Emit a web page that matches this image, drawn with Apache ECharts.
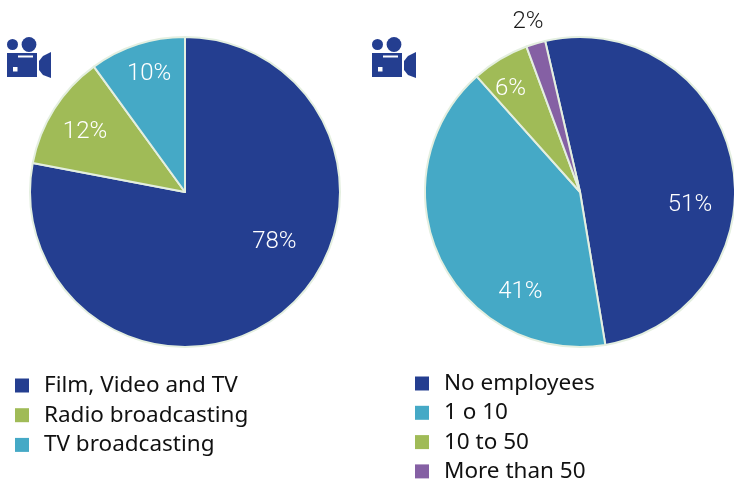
<!DOCTYPE html>
<html><head><meta charset="utf-8">
<style>html,body{margin:0;padding:0;background:#fff}#c{width:734px;height:480px}</style>
<script src="https://cdn.jsdelivr.net/npm/echarts@6/dist/echarts.min.js"></script>
</head><body><div id="c"></div>
<script>
const sectorCategories = ['Film, Video and TV', 'Radio broadcasting', 'TV broadcasting'];
const sectorValues = [78, 12, 10];
const sectorColors = ['#243e90', '#a0bb57', '#45a9c6'];
const sectorLabelShift = [[38, -12], [-32, -17], [-11, -41]];

const sizeCategories = ['No employees', '1 o 10', '10 to 50', 'More than 50'];
const sizeValues = [51, 41, 6, 2];
const sizeColors = ['#243e90', '#45a9c6', '#a0bb57', '#8560a4'];
const sizeLabelShift = [[31, 29], [13, 65], [-28, -34], [-29, -93]];

const labelFont = {fontFamily: 'Roboto', fontWeight: 300, fontSize: 24, color: '#fff'};

function pie(center, radius, startAngle, names, values, colors, shifts) {
  return {
    type: 'pie', center, radius, startAngle, clockwise: true, animation: false,
    emphasis: {disabled: true}, silent: true,
    itemStyle: {borderColor: '#e4efe0', borderWidth: 2},
    label: Object.assign({show: true, position: 'inside', formatter: '{c}%'}, labelFont),
    labelLine: {show: false},
    labelLayout: p => ({dx: shifts[p.dataIndex][0], dy: shifts[p.dataIndex][1]}),
    data: names.map((name, i) => ({
      name, value: values[i], itemStyle: {color: colors[i]},
      label: values[i] < 3 ? {color: '#1a1a1a'} : {}
    }))
  };
}

function legend(left, top, gap, names) {
  return {
    left, top, height: 140, orient: 'vertical', icon: 'rect', itemWidth: 14, itemHeight: 14, itemGap: gap,
    padding: 0, selectedMode: false, data: names,
    itemStyle: {borderWidth: 0},
    textStyle: {fontFamily: 'Noto Sans', fontSize: 22.5, color: '#111', padding: [0, 0, 0, 10], lineHeight: 22, height: 22}
  };
}

function camera(x, y) {
  const c = '#243e90';
  return {
    type: 'group', x, y, silent: true,
    children: [
      {type: 'circle', shape: {cx: 5.5, cy: 7.5, r: 5.5}, style: {fill: c}},
      {type: 'circle', shape: {cx: 22, cy: 7.5, r: 7.4}, style: {fill: c}},
      {type: 'polygon', shape: {points: [[0, 16], [30, 16], [30, 40], [0, 40]]}, style: {fill: c}},
      {type: 'rect', shape: {x: 11, y: 18.5, width: 15, height: 2}, style: {fill: '#fff'}},
      {type: 'rect', shape: {x: 6, y: 30, width: 4.5, height: 4.5}, style: {fill: '#fff'}},
      {type: 'polygon', shape: {points: [[32, 24], [36, 19], [44, 15], [44, 41], [36, 38], [32, 33]]}, style: {fill: c}}
    ]
  };
}

const chart = echarts.init(document.getElementById('c'), null, {renderer: 'canvas'});
chart.setOption({
  backgroundColor: '#fff',
  animation: false,
  legend: [legend(15, 374, 6.7, sectorCategories), legend(415, 372, 6.3, sizeCategories)],
  series: [
    pie([185, 192], [0, 155], 90, sectorCategories, sectorValues, sectorColors, sectorLabelShift),
    pie([580, 192], [0, 155], 103, sizeCategories, sizeValues, sizeColors, sizeLabelShift)
  ],
  graphic: [camera(7, 37), camera(372, 37)]
});
</script></body></html>
